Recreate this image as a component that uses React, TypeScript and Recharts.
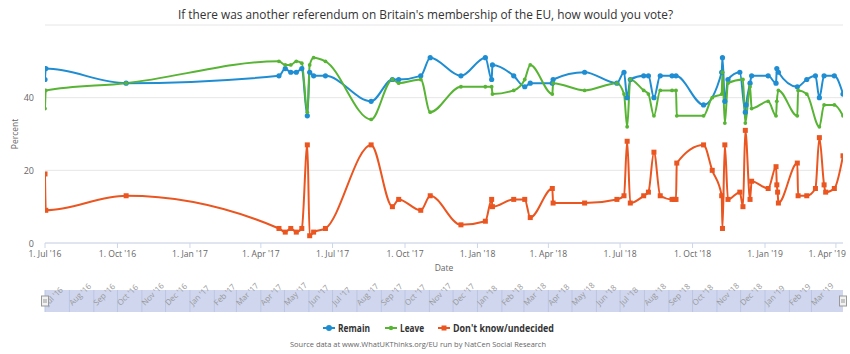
import React from 'react';
import {
  LineChart,
  Line,
  XAxis,
  YAxis,
  CartesianGrid,
  ComposedChart,
  ReferenceLine,
  ReferenceDot,
} from 'recharts';

// ---------- data ----------
const pollDates = [
  '2016-07-01', '2016-07-02', '2016-10-12', '2017-04-24', '2017-05-02', '2017-05-09', '2017-05-16',
  '2017-05-23', '2017-05-30', '2017-06-02', '2017-06-07', '2017-06-22', '2017-08-19', '2017-09-15',
  '2017-09-23', '2017-10-21', '2017-11-02', '2017-12-11', '2018-01-11', '2018-01-19', '2018-01-20',
  '2018-02-16', '2018-03-02', '2018-03-09', '2018-04-06', '2018-04-07', '2018-05-17', '2018-06-27',
  '2018-07-06', '2018-07-10', '2018-07-14', '2018-07-31', '2018-08-06', '2018-08-13', '2018-08-21',
  '2018-09-05', '2018-09-08', '2018-09-10', '2018-09-11', '2018-10-15', '2018-10-26', '2018-11-07',
  '2018-11-08', '2018-11-11', '2018-11-15', '2018-11-30', '2018-12-04', '2018-12-07', '2018-12-08',
  '2018-12-13', '2018-12-15', '2019-01-05', '2019-01-15', '2019-01-16', '2019-01-17', '2019-01-18',
  '2019-02-11', '2019-02-12', '2019-02-23', '2019-03-06', '2019-03-11', '2019-03-17', '2019-03-19',
  '2019-03-30', '2019-04-10',
];

const remain: (number | null)[] = [
  45, 48, 44, 46, 48, 47, 47,
  48, 35, 47, 46, 46, 39, 45,
  45, 46, 51, 46, 51, 45, 49,
  46, 43, 44, 44, 45, 47, 44,
  47, 40, 45, 46, 46, 40, 46,
  46, null, 46, null, 38, null, 47,
  51, 39, 45, 47, null, 36, 38,
  44, 46, 46, 44, 48, null, 47,
  43, null, 45, 46, 40, 46, null,
  46, 41,
];

const leave: (number | null)[] = [
  37, 42, 44, 50, 49, 49, 50,
  49.5, 36, 49, 51, 50, 34, 45,
  44, 45, 36, 43, 43, 43, 41,
  42, 45, 49, 41, 44, 42, 44,
  41, 32, 45, 42, 41, 35, 42,
  42, null, 42, 35, 35, 40, 41,
  47, 33, 44, null, 45, 33, null,
  43, 37, 39, 35, 39, null, 42,
  35, 42, 41, null, 32, 38, null,
  38, 35,
];

const dontKnow: (number | null)[] = [
  19, 9, 13, 4, 3, 4, 3,
  4, 27, 2, 3, 4, 27, 10,
  12, 9, 13, 5, 6, 12, 10,
  12, 12, 7, 15, 11, 11, 12,
  13, 28, 11, 13, 14, 25, 13,
  12, 12, 12, 22, 27, 20, 13,
  4, 27, 12, 14, 10, 31, null,
  12, 17, 15, 21, 16, 14, 11,
  22, 13, 13, 15, 29, 16, 14,
  15, 24,
];

const yTicks = [0, 20, 40, 60];
const xTickDates = [
  '2016-07-01', '2016-10-01', '2017-01-01', '2017-04-01', '2017-07-01', '2017-10-01',
  '2018-01-01', '2018-04-01', '2018-07-01', '2018-10-01', '2019-01-01', '2019-04-01',
];
const navMonthDates = [
  '2016-07-01', '2016-08-01', '2016-09-01', '2016-10-01', '2016-11-01', '2016-12-01',
  '2017-01-01', '2017-02-01', '2017-03-01', '2017-04-01', '2017-05-01', '2017-06-01',
  '2017-07-01', '2017-08-01', '2017-09-01', '2017-10-01', '2017-11-01', '2017-12-01',
  '2018-01-01', '2018-02-01', '2018-03-01', '2018-04-01', '2018-05-01', '2018-06-01',
  '2018-07-01', '2018-08-01', '2018-09-01', '2018-10-01', '2018-11-01', '2018-12-01',
  '2019-01-01', '2019-02-01', '2019-03-01',
];

const seriesNames = { remain: 'Remain', leave: 'Leave', dontKnow: "Don't know/undecided" };
const titleText = "If there was another referendum on Britain's membership of the EU, how would you vote?";
const sourceText = 'Source data at www.WhatUKThinks.org/EU run by NatCen Social Research';

// ---------- helpers ----------
const MONTHS = ['Jan', 'Feb', 'Mar', 'Apr', 'May', 'Jun', 'Jul', 'Aug', 'Sep', 'Oct', 'Nov', 'Dec'];
const ts = (d: string) => Date.parse(d + 'T00:00:00Z');
const yy = (d: Date) => String(d.getUTCFullYear()).slice(2);
const fmtTick = (v: number) => {
  const d = new Date(v);
  return `${d.getUTCDate()}. ${MONTHS[d.getUTCMonth()]} '${yy(d)}`;
};
const fmtMonth = (v: number) => {
  const d = new Date(v);
  return `${MONTHS[d.getUTCMonth()]} '${yy(d)}`;
};

const data = pollDates.map((d, i) => ({
  t: ts(d),
  remain: remain[i],
  leave: leave[i],
  dontKnow: dontKnow[i],
}));
const xDomain: [number, number] = [ts(pollDates[0]), ts(pollDates[pollDates.length - 1])];
const xTicks = xTickDates.map(ts);
const navTicks = navMonthDates.map(ts);

const C_REMAIN = '#1f8dd2';
const C_LEAVE = '#58b434';
const C_DK = '#ea5520';
const FONT = "'Open Sans', 'DejaVu Sans', sans-serif";

const valid = (v: any) => typeof v === 'number' && !isNaN(v);

const circleDot = (r: number, color: string) => (props: any) => {
  const { cx, cy, index, value } = props;
  if (!valid(cx) || !valid(cy) || value == null) return <g key={`e${index}`} />;
  return <circle key={`c${index}`} cx={cx} cy={cy} r={r} fill={color} />;
};
const squareDot = (s: number, color: string) => (props: any) => {
  const { cx, cy, index, value } = props;
  if (!valid(cx) || !valid(cy) || value == null) return <g key={`e${index}`} />;
  return <rect key={`s${index}`} x={cx - s / 2} y={cy - s / 2} width={s} height={s} fill={color} />;
};

const YTick = (props: any) => {
  const { x, y, payload } = props;
  if (payload.value === 60) return <g />;
  return (
    <text x={x} y={y} textAnchor="end" dominantBaseline="central" fill="#666" fontSize={9} fontFamily={FONT}>
      {payload.value}
    </text>
  );
};

// x tick: justified so the last label stays inside the chart
const XTick = (props: any) => {
  const { x, y, payload } = props;
  const label = fmtTick(payload.value);
  const approxW = label.length * 3.5;
  const overflow = x + approxW / 2 > 846;
  return (
    <text
      x={overflow ? 846 : x}
      y={y + 5}
      textAnchor={overflow ? 'end' : 'middle'}
      dominantBaseline="central"
      fill="#666"
      fontSize={8.6}
      fontFamily={FONT}
    >
      {label}
    </text>
  );
};

const navLabel = (text: string) => (props: any) => {
  const vb = props.viewBox || {};
  const x = (vb.x ?? 0) + 3;
  const y = (vb.y ?? 0) + (vb.height ?? 0) - 6;
  return (
    <text x={x} y={y} transform={`rotate(-45 ${x} ${y})`} fill="#999" fontSize={8} fontFamily={FONT}>
      {text}
    </text>
  );
};

const Handle = (props: any) => {
  const { cx, cy } = props;
  if (!valid(cx) || !valid(cy)) return <g />;
  return (
    <g>
      <rect x={cx - 3.5} y={cy - 5} width={7} height={10} fill="#f2f2f2" stroke="#999" strokeWidth={1} />
      <line x1={cx - 1} y1={cy - 2} x2={cx - 1} y2={cy + 2} stroke="#999" />
      <line x1={cx + 1} y1={cy - 2} x2={cx + 1} y2={cy + 2} stroke="#999" />
    </g>
  );
};

export default function App() {
  return (
    <div style={{ position: 'absolute', left: 0, top: 0, width: 850, height: 354, background: '#fff', fontFamily: FONT }}>
      <div style={{ position: 'absolute', left: 0, top: 0 }}>
        <LineChart width={850} height={280} data={data} margin={{ top: 25, right: 7, bottom: 15, left: 0 }}>
          <CartesianGrid vertical={false} stroke="#e6e6e6" />
          <XAxis
            dataKey="t"
            type="number"
            domain={xDomain}
            ticks={xTicks}
            tickFormatter={fmtTick}
            allowDataOverflow
            stroke="#ccd6eb"
            tickSize={5}
            tickMargin={1}
            height={22}
            interval={0}
            tick={<XTick />}
          />
          <YAxis
            domain={[0, 60]}
            ticks={yTicks}
            width={45}
            axisLine={false}
            tickLine={false}
            tickSize={6}
            tickMargin={5}
            tick={<YTick />}
          />
          <Line
            name={seriesNames.remain}
            dataKey="remain"
            type="monotone"
            stroke={C_REMAIN}
            strokeWidth={2}
            dot={circleDot(2.6, C_REMAIN)}
            activeDot={false}
            connectNulls
            isAnimationActive={false}
          />
          <Line
            name={seriesNames.leave}
            dataKey="leave"
            type="monotone"
            stroke={C_LEAVE}
            strokeWidth={2}
            dot={circleDot(1.9, C_LEAVE)}
            activeDot={false}
            connectNulls
            isAnimationActive={false}
          />
          <Line
            name={seriesNames.dontKnow}
            dataKey="dontKnow"
            type="monotone"
            stroke={C_DK}
            strokeWidth={2}
            dot={squareDot(5, C_DK)}
            activeDot={false}
            connectNulls
            isAnimationActive={false}
          />
        </LineChart>
      </div>

      <div style={{ position: 'absolute', left: 0, top: 280 }}>
        <ComposedChart width={850} height={38} data={data} margin={{ top: 10, right: 7, bottom: 6, left: 45 }}>
          <CartesianGrid horizontal={false} vertical={false} fill="#cfd6ee" />
          <XAxis dataKey="t" type="number" domain={xDomain} hide allowDataOverflow />
          <YAxis domain={[0, 60]} hide />
          <Line dataKey="remain" stroke="none" dot={false} activeDot={false} connectNulls isAnimationActive={false} legendType="none" />
          {navTicks.map((m) => (
            <ReferenceLine
              key={m}
              x={m}
              stroke="#bcc5e2"
              strokeWidth={1}
              ifOverflow="visible"
              label={navLabel(fmtMonth(m))}
            />
          ))}
          <ReferenceDot x={xDomain[0]} y={30} ifOverflow="visible" shape={<Handle />} />
          <ReferenceDot x={xDomain[1]} y={30} ifOverflow="visible" shape={<Handle />} />
        </ComposedChart>
      </div>

      <svg width={850} height={354} style={{ position: 'absolute', left: 0, top: 0, pointerEvents: 'none' }}>
        <text x={425.5} y={14} textAnchor="middle" dominantBaseline="central" fill="#333" fontSize={12} fontFamily={FONT} textLength={495} lengthAdjust="spacingAndGlyphs">
          {titleText}
        </text>
        <text x={14} y={134} textAnchor="middle" dominantBaseline="central" fill="#666" fontSize={8.5} fontFamily={FONT} transform="rotate(-90 14 134)">
          Percent
        </text>
        <text x={444} y={267} textAnchor="middle" dominantBaseline="central" fill="#666" fontSize={8.5} fontFamily={FONT}>
          Date
        </text>

        {/* legend */}
        <line x1={323} y1={328} x2={335} y2={328} stroke={C_REMAIN} strokeWidth={2} />
        <circle cx={329} cy={328} r={3} fill={C_REMAIN} />
        <text x={338} y={328} dominantBaseline="central" fill="#333" fontSize={10} fontWeight="bold" fontFamily={FONT} textLength={32} lengthAdjust="spacingAndGlyphs">
          {seriesNames.remain}
        </text>
        <line x1={385} y1={328} x2={397} y2={328} stroke={C_LEAVE} strokeWidth={2} />
        <circle cx={391} cy={328} r={2.2} fill={C_LEAVE} />
        <text x={400} y={328} dominantBaseline="central" fill="#333" fontSize={10} fontWeight="bold" fontFamily={FONT} textLength={24} lengthAdjust="spacingAndGlyphs">
          {seriesNames.leave}
        </text>
        <line x1={438} y1={328} x2={450} y2={328} stroke={C_DK} strokeWidth={2} />
        <rect x={441.5} y={325.5} width={5} height={5} fill={C_DK} />
        <text x={453} y={328} dominantBaseline="central" fill="#333" fontSize={10} fontWeight="bold" fontFamily={FONT} textLength={101} lengthAdjust="spacingAndGlyphs">
          {seriesNames.dontKnow}
        </text>

        <text x={418} y={343} textAnchor="middle" dominantBaseline="central" fill="#666" fontSize={8} fontFamily={FONT} textLength={256} lengthAdjust="spacingAndGlyphs">
          {sourceText}
        </text>
      </svg>
    </div>
  );
}
